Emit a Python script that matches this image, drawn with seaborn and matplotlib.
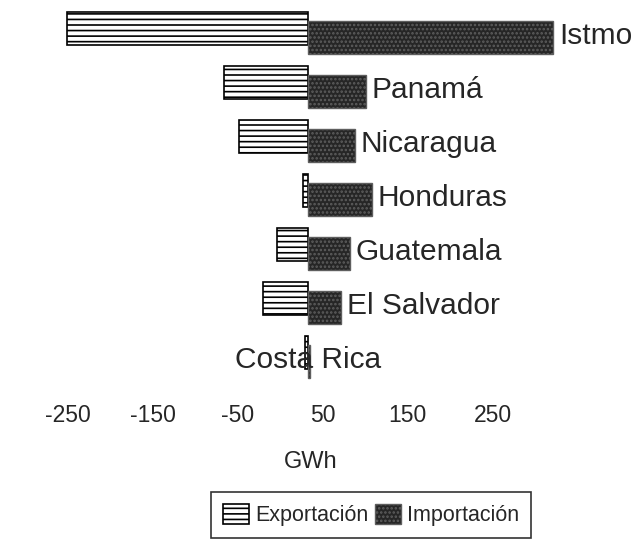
import numpy as np
import pandas as pd
import seaborn as sns
import matplotlib.pyplot as plt
from matplotlib.patches import Patch
from matplotlib.transforms import ScaledTranslation

# data (GWh)
paises = ["Istmo", "Panamá", "Nicaragua", "Honduras", "Guatemala", "El Salvador", "Costa Rica"]
exportacion = [-284, -99, -81, -6, -37, -53, -3]
importacion = [288, 68, 55, 75, 49, 39, 2]
ticks = [-250, -150, -50, 50, 150, 250]

sns.set_style("white")
plt.rcParams['font.family'] = ['Liberation Sans', 'DejaVu Sans']
plt.rcParams['hatch.linewidth'] = 1.2

fig = plt.figure(figsize=(6.44, 5.6), dpi=100)
ax = fig.add_axes([0, 1 - 398/560, 1, 398/560])

exp_style = dict(facecolor="white", edgecolor="black", hatch="---", linewidth=1.2)
imp_style = dict(facecolor="#262626", edgecolor="#5e5e5e", hatch="....", linewidth=1.0)

sns.barplot(x=exportacion, y=paises, orient="h", width=0.62, saturation=1,
            errorbar=None, ax=ax, **exp_style)
n = len(paises)
sns.barplot(x=importacion, y=paises, orient="h", width=0.62, saturation=1,
            errorbar=None, ax=ax, **imp_style)

# export bars sit a little higher than import bars
for i, p in enumerate(ax.patches):
    p.set_y(p.get_y() + (-0.08 if i < n else 0.08))

# category names as labels next to the bars
for i, (pais, imp, exp) in enumerate(zip(paises, importacion, exportacion)):
    if imp - exp < 20:
        ax.text(0, i + 0.05, pais, ha="center", va="center", fontsize=21.5)
    else:
        ax.text(imp + 7, i + 0.06, pais, ha="left", va="center", fontsize=21.5)

ax.set_xlim(-308/0.85, 336/0.85)
ax.set_ylim((398 - 33)/54, -33/54)
ax.set_yticks([])
ax.set_xticks(ticks)
ax.set_xticklabels([str(t) for t in ticks], fontsize=16.5)
ax.tick_params(axis="x", length=0, pad=4)
shift = ScaledTranslation(-0.28, 0, fig.dpi_scale_trans)
for lab in ax.get_xticklabels():
    lab.set_transform(lab.get_transform() + shift)
for s in ax.spines.values():
    s.set_visible(False)
ax.set_ylabel("")
ax.set_xlabel("")

fig.text(311/644, 1 - 462/560, "GWh", ha="center", va="center", fontsize=17)

handles = [Patch(label="Exportación", **exp_style), Patch(label="Importación", **imp_style)]
leg = fig.legend(handles=handles, loc="center", bbox_to_anchor=(371/644, 1 - 515/560),
                 ncol=2, fontsize=15.5, frameon=True, fancybox=False, edgecolor="black",
                 handlelength=1.2, handleheight=1.1, handletextpad=0.3, columnspacing=0.3,
                 borderpad=0.55, borderaxespad=0)
leg.get_frame().set_linewidth(1.2)

fig.savefig("out.png", dpi=100)
